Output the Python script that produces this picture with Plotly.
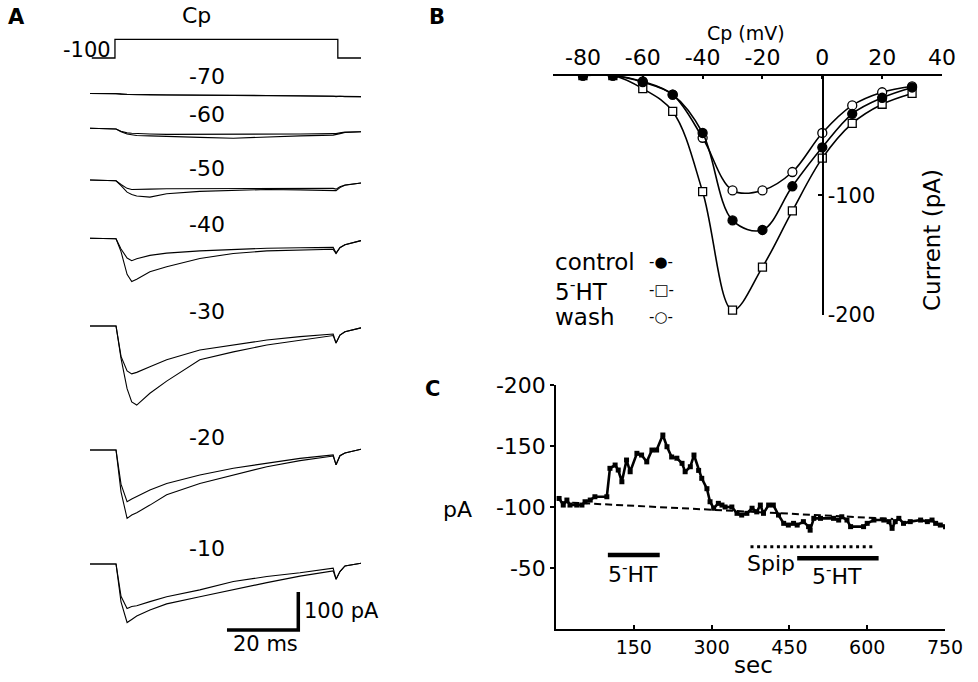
import plotly.graph_objects as go

W, H = 978, 682
FONT = "DejaVu Sans, Liberation Sans, Arial, sans-serif"

# ---------------- Panel A : current traces ----------------
CMD_T_MS = [0.5, 7.0, 7.0, 69.5, 69.5, 76.0]
CMD_PULSE = [0, 0, 1, 1, 0, 0]          # 0 = holding (-100 mV), 1 = test potential Cp
HOLD_LABEL = "-100"
CMD_LABEL = "Cp"

T_MS = [0, 7.3, 8.7, 10.4, 11.7, 13.1, 16.8, 21.5, 30.8, 40.2, 49.6, 58.9, 68.2, 69.0, 70.1, 71.5, 76]
SWEEP_LABELS = ["-70", "-60", "-50", "-40", "-30", "-20", "-10"]
CTRL_PA = [
    [2, 2, 1, 0, 0, 0, -1, -1, -2, -2, -3, -4, -5, -5, -5, -6, -6],
    [0, -2, -8, -12, -13, -14, -15, -16, -16, -16, -16, -15, -14, -14, -12, -10, -9],
    [0, -2, -12, -22, -25, -25, -24, -23, -23, -23, -22, -22, -22, -24, -18, -13, -8],
    [0, -1, -28, -52, -59, -54, -45, -39, -33, -29, -26, -25, -24, -39, -24, -17, -6],
    [0, 0, -80, -118, -126, -122, -107, -89, -63, -50, -37, -28, -21, -45, -24, -15, -5],
    [0, 0, -90, -136, -129, -122, -105, -88, -66, -48, -35, -22, -13, -39, -15, -8, 2],
    [0, 0, -85, -117, -112, -110, -99, -86, -68, -46, -33, -23, -11, -40, -20, -5, 2],
]
HT_PA = [
    [2, 2, 0, -1, -1, -1, -2, -2, -3, -3, -4, -4, -5, -6, -5, -6, -6],
    [0, -2, -9, -15, -17, -19, -20, -22, -24, -26, -22, -20, -18, -17, -14, -11, -9],
    [0, -2, -15, -32, -38, -42, -45, -36, -30, -27, -25, -26, -28, -28, -20, -14, -8],
    [0, -1, -35, -95, -114, -108, -88, -75, -53, -40, -33, -31, -29, -40, -25, -17, -6],
    [0, 0, -85, -165, -200, -208, -177, -145, -89, -68, -50, -37, -25, -45, -24, -15, -5],
    [0, 0, -110, -180, -171, -165, -145, -118, -88, -66, -44, -28, -16, -39, -15, -8, 2],
    [0, 0, -100, -154, -146, -137, -121, -105, -86, -67, -49, -32, -18, -40, -20, -5, 2],
]
SCALE_MS = 20
SCALE_PA = 100

# ---------------- Panel B : I-V relation ----------------
B_CP_MV = [-80, -70, -60, -50, -40, -30, -20, -10, 0, 10, 20, 30]
B_CONTROL = [0, 0, -5.6, -16, -48, -121, -129, -92.5, -60, -32, -18.6, -10]
B_5HT = [0, 0, -11, -30, -97, -196, -160, -113, -69, -40, -24, -15]
B_WASH = [0, 0, -5, -16, -52, -96, -96, -80.6, -48, -25, -14, -9]
B_XTICKS_ALL = [-90, -80, -70, -60, -50, -40, -30, -20, -10, 0, 10, 20, 30, 40]
B_XTICKS_LAB = [-80, -60, -40, -20, 0, 20, 40]
B_XTICKTEXT = ["-80", "-60", "-40", "-20", "0", "20", "40"]
B_YTICKS = [-100, -200]
B_YTICKTEXT = ["-100", "-200"]
B_LEGEND = [("control", "-\u25CF-"), ("5<sup>-</sup>HT", "-\u25A1-"), ("wash", "-\u25CB-")]

# ---------------- Panel C : time course ----------------
C_TIME_S = [6, 14, 21, 27, 40, 50, 56, 66, 75, 98,
            104, 114, 120, 127, 136, 143, 156, 165, 175, 185,
            194, 206, 214, 223, 233, 243, 249, 259, 266, 275,
            281, 291, 297, 304, 313, 320, 326, 339, 349, 358,
            368, 378, 387, 394, 400, 410, 419, 429, 439, 448,
            458, 465, 477, 487, 490, 497, 510, 535, 545, 551,
            561, 568, 593, 600, 613, 632, 642, 648, 654, 661,
            670, 683, 703, 716, 725, 732, 741, 751]
C_CURRENT_PA = [-107, -101.6, -105.7, -101.6, -101.6, -101.6, -104.3, -105.7, -108.4, -108.4,
                -131.7, -134.4, -130.3, -120.7, -138.5, -128.9, -144, -142.6, -137, -146.7,
                -146.7, -159, -149.4, -141, -140, -135.8, -128.9, -133, -142.6, -130,
                -123.5, -115, -104.3, -99, -103, -101.6, -100, -100, -94.8, -93.4,
                -94.8, -99, -96, -101.6, -94.8, -101.6, -101.6, -93.4, -86.6, -85.2,
                -86.6, -85.2, -88, -83.9, -81, -90.7, -90.7, -90.7, -89.3, -92,
                -89.3, -83.9, -83.9, -86.6, -89.3, -89.3, -88, -82.5, -88, -90.7,
                -86.6, -88, -89.3, -88, -89.3, -86.6, -85.2, -83.9]
C_BASE_T = [10, 650]
C_BASE_PA = [-104, -90.2]
C_HT1_S = [100, 200]
C_SPIP_S = [375, 616]
C_HT2_S = [465, 622]
C_XTICKS = [150, 300, 450, 600, 750]
C_YTICKS = [-200, -150, -100, -50]
C_YTICKTEXT = ["-200", "-150", "-100", "-50"]

# ---------------- layout helpers ----------------
def fx(px):
    return px / W

def fy(py):
    return 1 - py / H

PX_PER_PA_A = 0.38           # vertical scale in panel A
PX_PER_MS_A = (361 - 90) / 76.0
SWEEP_BASE_PX = [94.3, 128.3, 180, 238.3, 326, 450, 564]
SWEEP_LABEL_PX = [76, 115, 168, 225, 311, 437, 548]
CMD_LOW_PX, CMD_HIGH_PX = 58, 39.3

def a_y(pa, base_px):
    return [v - base_px / PX_PER_PA_A for v in pa]

fig = go.Figure()
blk = "black"

# Panel A command
cmd_y = [-(CMD_LOW_PX - p * (CMD_LOW_PX - CMD_HIGH_PX)) / PX_PER_PA_A for p in CMD_PULSE]
fig.add_trace(go.Scatter(x=CMD_T_MS, y=cmd_y, mode="lines", line=dict(color=blk, width=1.3),
                         xaxis="x", yaxis="y", hoverinfo="skip"))
for i, lab in enumerate(SWEEP_LABELS):
    for arr in (CTRL_PA, HT_PA):
        fig.add_trace(go.Scatter(x=T_MS, y=a_y(arr[i], SWEEP_BASE_PX[i]), mode="lines",
                                 line=dict(color=blk, width=1.1), xaxis="x", yaxis="y",
                                 hoverinfo="skip"))
# scale bar
corner_t = (298.3 - 90) / PX_PER_MS_A
corner_y = -630 / PX_PER_PA_A
fig.add_trace(go.Scatter(x=[corner_t - SCALE_MS, corner_t, corner_t],
                         y=[corner_y, corner_y, corner_y + SCALE_PA],
                         mode="lines", line=dict(color=blk, width=3.5), xaxis="x", yaxis="y",
                         hoverinfo="skip"))

# Panel B
def b_trace(y, sym):
    fig.add_trace(go.Scatter(x=B_CP_MV, y=y, mode="lines+markers",
                             line=dict(color=blk, width=1.6, shape="spline", smoothing=1.0),
                             marker=dict(symbol=sym[0], size=sym[1], color=sym[2],
                                         line=dict(color=blk, width=1.3)),
                             xaxis="x2", yaxis="y2", hoverinfo="skip"))

b_trace(B_WASH, ("circle", 9, "white"))
b_trace(B_5HT, ("square", 8, "white"))
b_trace(B_CONTROL, ("circle", 9, blk))

# Panel C
fig.add_trace(go.Scatter(x=C_BASE_T, y=C_BASE_PA, mode="lines",
                         line=dict(color=blk, width=2, dash="7px,4px"),
                         xaxis="x3", yaxis="y3", hoverinfo="skip"))
fig.add_trace(go.Scatter(x=C_TIME_S, y=C_CURRENT_PA, mode="lines+markers",
                         line=dict(color=blk, width=2.6),
                         marker=dict(symbol="square", size=5, color=blk),
                         xaxis="x3", yaxis="y3", hoverinfo="skip"))
for span, lvl in ((C_HT1_S, -60.6), (C_HT2_S, -58)):
    fig.add_trace(go.Scatter(x=span, y=[lvl, lvl], mode="lines", line=dict(color=blk, width=4.5),
                             xaxis="x3", yaxis="y3", hoverinfo="skip"))
fig.add_trace(go.Scatter(x=C_SPIP_S, y=[-67.5, -67.5], mode="lines",
                         line=dict(color=blk, width=3, dash="3px,3.6px"),
                         xaxis="x3", yaxis="y3", hoverinfo="skip"))

axis_common = dict(showgrid=False, zeroline=False, showline=True, linecolor=blk, linewidth=1.5,
                   tickcolor=blk, tickwidth=1.5, fixedrange=True, automargin=False)
over_common = dict(showgrid=False, zeroline=False, showline=False, ticklen=4,
                   tickwidth=1.5, tickcolor=blk, showticklabels=False, fixedrange=True,
                   automargin=False)

layout = dict(
    template="none",
    width=W, height=H, autosize=False,
    margin=dict(l=0, r=0, t=0, b=0, pad=0, autoexpand=False),
    paper_bgcolor="white", plot_bgcolor="rgba(0,0,0,0)", showlegend=False,
    font=dict(family=FONT, color=blk),
    xaxis=dict(domain=[fx(90), fx(361)], range=[0, 76], visible=False, anchor="y",
               fixedrange=True, automargin=False),
    yaxis=dict(domain=[0, 1], range=[-H / PX_PER_PA_A, 0], visible=False, anchor="x",
               fixedrange=True, automargin=False),
    # B: labelled axes carry the inner half of each crossing tick, overlays the rest
    xaxis2=dict(axis_common, domain=[fx(553), fx(942)], range=[-90, 40], anchor="y2", side="top",
                ticks="inside", ticklen=4, tickvals=B_XTICKS_LAB, ticktext=B_XTICKTEXT,
                tickfont=dict(size=22)),
    xaxis4=dict(over_common, overlaying="x2", anchor="y2", side="top", range=[-90, 40],
                ticks="outside", tickvals=B_XTICKS_ALL),
    xaxis6=dict(over_common, overlaying="x2", anchor="y2", side="top", range=[-90, 40],
                ticks="inside", tickvals=B_XTICKS_ALL),
    yaxis2=dict(axis_common, domain=[fy(315), fy(75.5)], range=[-200, 0], anchor="free",
                position=fx(822.7), side="right", ticks="inside", ticklen=4,
                tickvals=B_YTICKS, ticktext=B_YTICKTEXT, tickfont=dict(size=21)),
    yaxis4=dict(over_common, overlaying="y2", anchor="free", position=fx(822.7), side="right",
                range=[-200, 0], ticks="outside", tickvals=B_YTICKS),
    xaxis3=dict(axis_common, domain=[fx(556), fx(945)], range=[0, 750], anchor="y3",
                ticks="inside", ticklen=4, tickvals=C_XTICKS, tickfont=dict(size=19)),
    yaxis3=dict(axis_common, domain=[fy(629), fy(385)], range=[0, -200], anchor="x3",
                ticks="outside", ticklen=4, tickvals=C_YTICKS, ticktext=C_YTICKTEXT,
                tickfont=dict(size=22)),
    xaxis5=dict(over_common, overlaying="x3", anchor="y3", range=[0, 750], ticks="outside",
                tickvals=C_XTICKS),
    yaxis5=dict(over_common, overlaying="y3", anchor="x3", range=[0, -200], ticks="inside",
                tickvals=C_YTICKS),
)
fig.update_layout(**layout)

ann = []
def txt(text, x, y, size=21, xanchor="center", yanchor="middle", bold=False, angle=0):
    ann.append(dict(text=f"<b>{text}</b>" if bold else text, x=fx(x), y=fy(y), xref="paper",
                    yref="paper", showarrow=False, xanchor=xanchor, yanchor=yanchor,
                    textangle=angle, font=dict(size=size, family=FONT, color=blk)))

txt("A", 16, 17, 21, bold=True)
txt("B", 437, 17, 21, bold=True)
txt("C", 432, 389, 21, bold=True)
# panel A labels
txt(CMD_LABEL, 196, 16, 22)
txt(HOLD_LABEL, 113, 50, 21, xanchor="right")
for lab, ly in zip(SWEEP_LABELS, SWEEP_LABEL_PX):
    txt(lab, 207, ly, 22)
txt(f"{SCALE_PA} pA", 302, 611, 21, xanchor="left")
txt(f"{SCALE_MS} ms", 265, 644, 21)
# panel B labels
txt("Cp (mV)", 746, 33, 19)
txt("Current (pA)", 932, 240, 23, angle=-90)
for k, (name, sym) in enumerate(B_LEGEND):
    yy = [262, 290, 317][k]
    txt(name, 553, yy, 23, xanchor="left")
    txt(sym, 661, yy, 15)
# panel C labels
txt("pA", 457, 509, 22)
txt("sec", 753, 665, 23)
for t, v, s in ((147.5, -46, "5<sup>-</sup>HT"), (414, -54, "Spip"), (541, -44, "5<sup>-</sup>HT")):
    ann.append(dict(text=s, x=t, y=v, xref="x3", yref="y3", showarrow=False,
                    font=dict(size=22, family=FONT, color=blk)))
fig.update_layout(annotations=ann)

fig.write_html("out.html")
